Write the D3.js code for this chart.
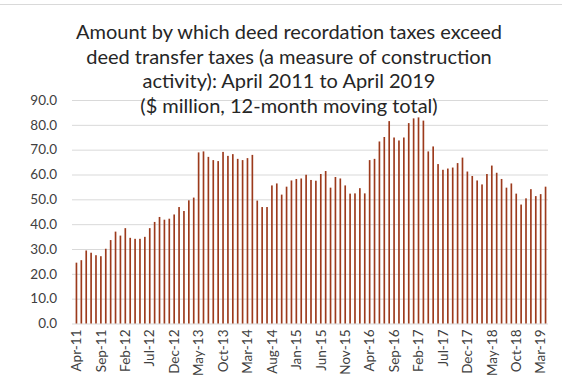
<!DOCTYPE html>
<html>
<head>
<meta charset="utf-8">
<script src="https://cdn.jsdelivr.net/npm/d3@7"></script>
<style>
  body { margin: 0; background: #fff; }
  svg { display: block; font-family: Lato, "Open Sans", sans-serif; }
</style>
</head>
<body>
<div id="chart"></div>
<script>
// 12-month moving total, $ million, Apr-2011 .. Apr-2019
const months = d3.timeMonth.range(new Date(2011, 3, 1), new Date(2019, 4, 1)).map(d3.timeFormat("%b-%y"));

const values = [
  24.5, 25.5, 29.4, 28.5, 27.5, 27.1, 30.1, 33.6, 37.0, 35.4, 38.4, 34.5,
  34.1, 34.1, 34.9, 38.4, 40.9, 42.9, 41.8, 42.2, 43.9, 46.9, 45.3, 49.6,
  50.7, 68.9, 69.3, 67.1, 65.8, 65.4, 69.1, 67.5, 68.2, 66.3, 65.8, 66.6,
  67.9, 49.5, 46.9, 46.9, 55.6, 56.4, 51.9, 55.1, 57.6, 58.2, 58.4, 59.9,
  57.8, 57.5, 60.2, 61.4, 54.7, 59.0, 58.4, 55.6, 52.3, 52.4, 54.5, 52.4,
  65.8, 66.3, 73.3, 75.1, 81.5, 74.9, 73.7, 74.9, 80.7, 82.6, 83.0, 81.7,
  69.3, 71.3, 64.2, 61.9, 62.4, 62.8, 64.6, 66.8, 61.2, 59.4, 57.6, 56.0,
  60.2, 63.6, 60.7, 58.2, 54.7, 56.4, 52.3, 47.9, 50.4, 54.1, 51.3, 52.1,
  55.1
];

const tickLabels = ["Apr-11", "Sep-11", "Feb-12", "Jul-12", "Dec-12", "May-13", "Oct-13",
  "Mar-14", "Aug-14", "Jan-15", "Jun-15", "Nov-15", "Apr-16", "Sep-16", "Feb-17",
  "Jul-17", "Dec-17", "May-18", "Oct-18", "Mar-19"];

const yTicks = [0, 10, 20, 30, 40, 50, 60, 70, 80, 90];

const titleLines = [
  "Amount by which deed recordation taxes exceed",
  "deed transfer taxes (a measure of construction",
  "activity): April 2011 to April 2019",
  "($ million, 12-month moving total)"
];

const data = months.map((m, i) => ({ month: m, value: values[i] }));

const width = 562, height = 381;
const plotLeft = 74, plotRight = 548, plotTop = 100, plotBottom = 323.5;

const svg = d3.select("#chart").append("svg")
  .attr("width", width)
  .attr("height", height);

// faint chart border along the top
svg.append("line")
  .attr("x1", 0).attr("x2", width)
  .attr("y1", 4.5).attr("y2", 4.5)
  .attr("stroke", "#d9d9d9");

const x = d3.scaleBand()
  .domain(data.map(d => d.month))
  .range([plotLeft, plotRight])
  .paddingInner(0.66)
  .paddingOuter(0.33);

const y = d3.scaleLinear()
  .domain([0, 90])
  .range([plotBottom, plotTop]);

// gridlines + y labels
svg.append("g")
  .attr("transform", `translate(${plotLeft - 2},0)`)
  .call(d3.axisLeft(y).tickValues(yTicks).tickFormat(d3.format(".1f")).tickSize(-(plotRight - plotLeft + 2)).tickPadding(15))
  .call(g => g.select(".domain").remove())
  .call(g => g.selectAll("line").attr("stroke", "#d9d9d9"))
  .call(g => g.selectAll("text")
    .attr("fill", "#404040")
    .style("font-size", "13.5px")
    .style("font-family", "Lato, sans-serif"));

svg.selectAll("rect.bar")
  .data(data)
  .enter()
  .append("rect")
  .attr("class", "bar")
  .attr("x", d => x(d.month))
  .attr("y", d => y(d.value))
  .attr("width", x.bandwidth())
  .attr("height", d => y(0) - y(d.value))
  .attr("fill", "#9c3a1c");

// x axis labels
svg.append("g")
  .attr("transform", `translate(0,${plotBottom})`)
  .call(d3.axisBottom(x).tickValues(tickLabels).tickSize(0).tickPadding(0))
  .call(g => g.select(".domain").remove())
  .call(g => g.selectAll("text")
    .attr("fill", "#404040")
    .style("font-size", "13.5px")
    .style("font-family", "Lato, sans-serif")
    .attr("text-anchor", "end")
    .attr("dy", "0.35em")
    .attr("transform", `translate(0,6) rotate(-90)`)
    .attr("x", 0)
    .attr("y", 0));

// title
svg.append("g")
  .selectAll("text")
  .data(titleLines)
  .enter()
  .append("text")
  .attr("x", 289)
  .attr("y", (d, i) => 39 + i * 24.5)
  .attr("text-anchor", "middle")
  .attr("fill", "#262626")
  .style("font-size", "20px")
  .text(d => d);
</script>
</body>
</html>
